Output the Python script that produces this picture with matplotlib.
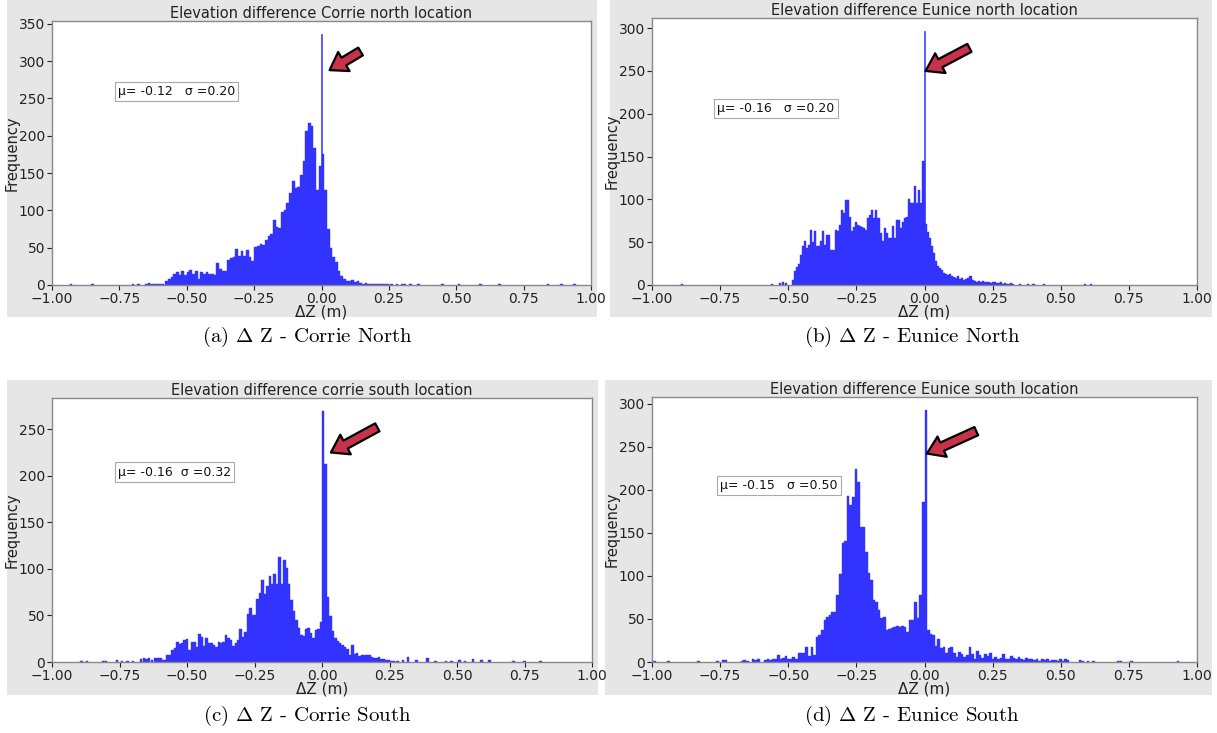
import matplotlib
matplotlib.use('Agg')
import matplotlib.pyplot as plt
from matplotlib.patches import Rectangle
import numpy as np

plt.rcParams['mathtext.fontset'] = 'cm'

# ---------------- data ----------------
titles = ["Elevation difference Corrie north location",
          "Elevation difference Eunice north location",
          "Elevation difference corrie south location",
          "Elevation difference Eunice south location"]
captions = [r"(a) $\Delta$ Z - Corrie North", r"(b) $\Delta$ Z - Eunice North",
            r"(c) $\Delta$ Z - Corrie South", r"(d) $\Delta$ Z - Eunice South"]
stats = ["\u03bc= -0.12   \u03c3 =0.20", "\u03bc= -0.16   \u03c3 =0.20",
         "\u03bc= -0.16  \u03c3 =0.32", "\u03bc= -0.15   \u03c3 =0.50"]
xticks = [-1.0, -0.75, -0.5, -0.25, 0.0, 0.25, 0.5, 0.75, 1.0]
yticks = [[0, 50, 100, 150, 200, 250, 300, 350],
          [0, 50, 100, 150, 200, 250, 300],
          [0, 50, 100, 150, 200, 250],
          [0, 50, 100, 150, 200, 250, 300]]

# Panel a: Corrie north
a_bin = 0.01
a_start = -0.58
a_counts = [5, 8, 11, 15, 17, 14, 19, 14, 17, 20,
            15, 19, 8, 18, 15, 17, 15, 15, 14, 29,
            21, 19, 19, 33, 36, 37, 48, 39, 46, 39,
            47, 38, 32, 51, 52, 55, 54, 60, 66, 69,
            87, 78, 76, 98, 100, 110, 123, 140, 130, 132,
            148, 166, 206, 217, 213, 183, 127, 160]
a_after = [175, 127, 75, 49, 37, 31, 19, 12, 8, 6, 5, 7, 4, 5, 3, 2, 3, 1, 1, 2,
           1, 2, 2, 1, 2]
a_spike = 337
a_tail_x = [-0.93, -0.85, -0.70, -0.68, -0.65, -0.64, -0.63, -0.62, -0.61, -0.60, -0.59,
            0.26, 0.28, 0.30, 0.31, 0.33, 0.36, 0.45, 0.51, 0.59, 0.66, 0.84, 0.89, 0.94]
a_tail_n = [1, 1, 1, 1, 2, 3, 1, 2, 2, 1, 2,
            1, 1, 2, 1, 1, 1, 1, 1, 1, 1, 1, 1, 1]

# Panel b: Eunice north
b_bin = 0.0075
b_start = -0.4875
b_counts = [6, 16, 21, 25, 35, 46, 51, 43, 47, 64,
            50, 63, 46, 46, 51, 63, 47, 58, 58, 41,
            41, 64, 63, 70, 88, 84, 99, 99, 80, 63,
            68, 74, 70, 69, 68, 66, 64, 78, 82, 88,
            78, 88, 78, 61, 51, 66, 61, 55, 55, 69,
            55, 76, 76, 66, 74, 78, 80, 100, 96, 96,
            116, 96, 111, 96, 145]
b_after = [71, 62, 55, 45, 37, 28, 22, 20, 18, 14, 13, 12, 13, 10, 9, 8, 10, 7, 8, 6,
           7, 8, 10, 6, 5, 4, 5, 4, 5, 3, 4, 3, 2, 3, 4, 2, 2, 3, 1, 2, 1, 1, 2, 1]
b_spike = 297
b_tail_x = [-0.89, -0.56, -0.53, -0.52, -0.51, 0.35, 0.38, 0.40, 0.44, 0.59, 0.61]
b_tail_n = [1, 1, 2, 3, 2, 1, 1, 1, 1, 1, 1]

# Panel c: Corrie south
c_bin = 0.009
c_start = -0.621
c_counts = [4, 4, 4, 2, 2, 7, 8, 13, 15, 21, 19, 20, 24, 25, 13, 22, 21, 16, 30, 27,
            17, 26, 20, 20, 18, 16, 21, 20, 21, 29, 26, 24, 17, 20, 24, 35, 27, 32, 52, 58,
            50, 50, 68, 74, 88, 73, 82, 92, 84, 95, 84, 113, 84, 110, 101, 84, 67, 55, 45, 36,
            29, 28, 35, 37, 31, 26, 34, 35, 43]
c_after = [213, 70, 49, 33, 26, 23, 20, 18, 16, 14, 8, 18, 9, 10, 6, 8, 7, 8, 7, 5,
           4, 4, 5, 3, 3, 2, 2, 1, 1]
c_spike = 270
c_tail_x = [-0.89, -0.87, -0.81, -0.80, -0.76, -0.74, -0.72, -0.70, -0.67, -0.66, -0.65, -0.64, -0.63,
            0.28, 0.30, 0.318, 0.35, 0.39, 0.42, 0.46, 0.48, 0.51, 0.53, 0.56, 0.59, 0.62, 0.71, 0.75, 0.81]
c_tail_n = [1, 1, 1, 1, 2, 1, 1, 1, 3, 4, 3, 4, 2,
            1, 2, 5, 2, 4, 1, 1, 1, 2, 1, 3, 2, 2, 1, 1, 1]

# Panel d: Eunice south
d_bin = 0.0095
d_start = -0.589
d_counts = [2, 3, 2, 4, 3, 8, 3, 5, 7, 3, 4, 6, 4, 10, 10, 10, 17, 7, 17, 8,
            29, 31, 37, 49, 52, 54, 58, 58, 78, 102, 138, 141, 193, 182, 191, 224, 209, 157, 157, 128,
            103, 95, 72, 70, 60, 51, 52, 37, 38, 39, 41, 42, 41, 42, 41, 35, 49, 49, 70, 51,
            78, 186]
d_after = [37, 33, 31, 18, 27, 16, 17, 10, 16, 17, 10, 6, 12, 9, 6, 8, 17, 9, 4, 13,
           8, 5, 9, 7, 10, 4, 6, 3, 5, 9, 3, 4, 7, 5, 3, 6, 4, 2, 5, 3,
           4, 2, 3, 1, 4, 2, 3, 1, 2, 2, 1, 3, 1, 3, 2]
d_spike = 293
d_tail_x = [-0.99, -0.94, -0.83, -0.76, -0.74, -0.73, -0.67, -0.66, -0.65, -0.63, -0.62, -0.61,
            0.57, 0.58, 0.60, 0.62, 0.71, 0.72, 0.76, 0.93]
d_tail_n = [1, 1, 1, 1, 2, 2, 1, 2, 1, 3, 2, 3,
            2, 1, 1, 1, 1, 1, 1, 1]

panels = [
    dict(bw=a_bin, start=a_start, counts=a_counts, after=a_after, spike=a_spike,
         tx=a_tail_x, tn=a_tail_n),
    dict(bw=b_bin, start=b_start, counts=b_counts, after=b_after, spike=b_spike,
         tx=b_tail_x, tn=b_tail_n),
    dict(bw=c_bin, start=c_start, counts=c_counts, after=c_after, spike=c_spike,
         tx=c_tail_x, tn=c_tail_n),
    dict(bw=d_bin, start=d_start, counts=d_counts, after=d_after, spike=d_spike,
         tx=d_tail_x, tn=d_tail_n),
]

# ---------------- layout (pixels) ----------------
W, H = 1217, 733
fig = plt.figure(figsize=(W / 100, H / 100), dpi=100)
fig.patch.set_facecolor('white')

grey_boxes = [(7, 0, 597, 317), (610, 0, 1212, 317), (7, 380, 598, 695), (605, 380, 1212, 695)]
axes_boxes = [(52, 21, 591, 285), (652, 18, 1197, 285), (52, 398, 592, 662), (652, 397, 1197, 662)]
caption_pos = [(307, 337), (912, 337), (307, 716), (912, 716)]
spike_w = [0.004, 0.004, None, None]
stat_pos = [(-0.755, 259), (-0.76, 206), (-0.755, 204), (-0.75, 205)]
arrow_tip = [(0.03, 288), (0.004, 250), (0.033, 225), (0.009, 242)]
arrow_tail = [(0.145, 313), (0.165, 277), (0.205, 252), (0.19, 268)]

bar_color = '#3333ff'

for i, p in enumerate(panels):
    gx0, gy0, gx1, gy1 = grey_boxes[i]
    fig.add_artist(Rectangle((gx0 / W, 1 - gy1 / H), (gx1 - gx0) / W, (gy1 - gy0) / H,
                             transform=fig.transFigure, facecolor='#e6e6e6',
                             edgecolor='none', zorder=0))
    x0, y0, x1, y1 = axes_boxes[i]
    ax = fig.add_axes([x0 / W, 1 - y1 / H, (x1 - x0) / W, (y1 - y0) / H])
    ax.set_zorder(2)

    bw = p['bw']
    counts = np.array(p['counts'])
    left = p['start'] + bw * np.arange(len(counts))
    ax.bar(left, counts, width=bw, align='edge', color=bar_color,
           edgecolor=bar_color, linewidth=0.3)
    if spike_w[i] is None:
        sw = bw
        ax.bar([0.0], [p['spike']], width=sw, align='edge', color=bar_color,
               edgecolor=bar_color, linewidth=0.3)
        after_start = bw
    else:
        sw = spike_w[i]
        after_start = 0.0
    after = np.array(p['after'])
    aleft = after_start + bw * np.arange(len(after))
    ax.bar(aleft, after, width=bw, align='edge', color=bar_color,
           edgecolor=bar_color, linewidth=0.3)
    if spike_w[i] is not None:
        ax.bar([0.0], [p['spike']], width=sw, align='center', color=bar_color,
               edgecolor=bar_color, linewidth=0.4, zorder=3)
    ax.bar(p['tx'], p['tn'], width=bw, align='center', color=bar_color,
           edgecolor=bar_color, linewidth=0.3)

    ax.set_xlim(-1.0, 1.0)
    ax.set_ylim(0, p['spike'] * 1.05)
    ax.set_xticks(xticks)
    ax.set_yticks(yticks[i])
    ax.tick_params(labelsize=10, length=3.5, width=0.8, colors='#222222', pad=1.5)
    for s in ax.spines.values():
        s.set_color('#888888')
        s.set_linewidth(1.0)
    ax.set_title(titles[i], fontsize=10.5, pad=1.5, color='#222222')
    ax.set_xlabel("\u0394Z (m)", fontsize=11, color='#222222')
    ax.set_ylabel("Frequency", fontsize=10.5, color='#222222')
    ax.xaxis.set_label_coords(0.5, -0.072)
    ax.yaxis.set_label_coords(-0.06, 0.5)

    sx, sy = stat_pos[i]
    ax.text(sx, sy, stats[i], fontsize=9, va='center', ha='left', color='#111111',
            bbox=dict(boxstyle='square,pad=0.25', facecolor='white', edgecolor='#aaaaaa',
                      linewidth=0.8), zorder=5)

    ax.annotate('', xy=arrow_tip[i], xytext=arrow_tail[i],
                arrowprops=dict(facecolor='#c8324a', edgecolor='black', linewidth=1.6,
                                width=6.5, headwidth=16, headlength=12, shrink=0.0),
                zorder=6)

    cx, cy = caption_pos[i]
    fig.text(cx / W, 1 - cy / H, captions[i], fontsize=15, family='cmr10',
             ha='center', va='center')

fig.savefig('out.png', dpi=100)
